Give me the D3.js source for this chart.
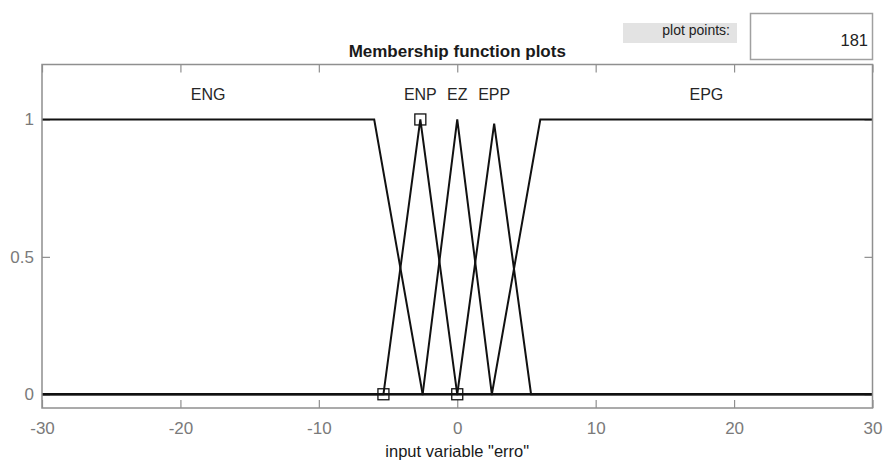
<!DOCTYPE html>
<html>
<head>
<meta charset="utf-8">
<script src="https://cdn.jsdelivr.net/npm/d3@7"></script>
<style>
  html, body { margin: 0; padding: 0; background: #fff; }
  svg { display: block; font-family: "Liberation Sans", Arial, Helvetica, sans-serif; }
</style>
</head>
<body>
<svg id="chart" width="883" height="462"></svg>
<script>
// Membership functions of the input variable "erro"
const mfNames = ["ENG", "ENP", "EZ", "EPP", "EPG"];
// vertices (x, membership) of each function across the universe [-30, 30]
const mfENG = [[-30, 1], [-6, 1], [-2.5, 0], [30, 0]];
const mfENP = [[-30, 0], [-5.333, 0], [-2.667, 1], [0, 0], [30, 0]];
const mfEZ  = [[-30, 0], [-2.5, 0], [0, 1], [2.5, 0], [30, 0]];
const mfEPP = [[-30, 0], [0, 0], [2.667, 0.985], [5.333, 0], [30, 0]];
const mfEPG = [[-30, 0], [2.5, 0], [6, 1], [30, 1]];
const mfCurves = [mfENG, mfENP, mfEZ, mfEPP, mfEPG];
// where each name is written
const labelX = [-18, -2.667, 0, 2.667, 18];
// parameters of the selected function (ENP)
const selectedPoints = [[-5.333, 0], [-2.667, 1], [0, 0]];

const xDomain = [-30, 30];
const yDomain = [-0.05, 1.2];
const xTicks = [-30, -20, -10, 0, 10, 20, 30];
const xTickLabels = ["-30", "-20", "-10", "0", "10", "20", "30"];
const yTicks = [0, 0.5, 1];
const yTickLabels = ["0", "0.5", "1"];
const plotPoints = 181;

const svg = d3.select("#chart");
const m = { left: 42, right: 872.5, top: 64.5, bottom: 408 };

const x = d3.scaleLinear().domain(xDomain).range([m.left, m.right]);
const y = d3.scaleLinear().domain(yDomain).range([m.bottom, m.top]);

const axisColor = "#8f8f8f";
const tickText = "#7a7a7a";

// plot points control
svg.append("rect").attr("x", 623).attr("y", 23).attr("width", 114).attr("height", 20)
  .attr("fill", "#e3e3e3");
svg.append("text").attr("x", 730).attr("y", 35).attr("text-anchor", "end")
  .attr("font-size", 14).attr("fill", "#222").text("plot points:");
svg.append("rect").attr("x", 750.5).attr("y", 13.5).attr("width", 122).attr("height", 46)
  .attr("fill", "#fff").attr("stroke", "#a0a0a0").attr("stroke-width", 1.5);
svg.append("text").attr("x", 868).attr("y", 46).attr("text-anchor", "end")
  .attr("font-size", 16.5).attr("fill", "#222").text(plotPoints);

// title
svg.append("text").attr("x", (m.left + m.right) / 2).attr("y", 57).attr("text-anchor", "middle")
  .attr("font-size", 17).attr("font-weight", "bold").attr("fill", "#1a1a1a")
  .text("Membership function plots");

// axes box with inward ticks on all sides
const tickLen = 8;
const axB = d3.axisBottom(x).tickValues(xTicks).tickSizeInner(-tickLen).tickSizeOuter(0)
  .tickFormat((d, i) => xTickLabels[i]);
const axT = d3.axisTop(x).tickValues(xTicks).tickSizeInner(-tickLen).tickSizeOuter(0).tickFormat("");
const axL = d3.axisLeft(y).tickValues(yTicks).tickSizeInner(-tickLen).tickSizeOuter(0)
  .tickFormat((d, i) => yTickLabels[i]);
const axR = d3.axisRight(y).tickValues(yTicks).tickSizeInner(-tickLen).tickSizeOuter(0).tickFormat("");

function styleAxis(g) {
  g.select(".domain").remove();
  g.selectAll(".tick line").attr("stroke", axisColor).attr("stroke-width", 1.2);
  g.selectAll(".tick text").attr("fill", tickText).attr("font-size", 17)
    .attr("font-family", "Liberation Sans, Arial, sans-serif");
}
svg.append("g").attr("transform", `translate(0,${m.bottom})`).call(axB).call(styleAxis)
  .selectAll(".tick text").attr("dy", null).attr("y", 26);
svg.append("g").attr("transform", `translate(0,${m.top})`).call(axT).call(styleAxis);
svg.append("g").attr("transform", `translate(${m.left},0)`).call(axL).call(styleAxis)
  .selectAll(".tick text").attr("x", -8);
svg.append("g").attr("transform", `translate(${m.right},0)`).call(axR).call(styleAxis);

// membership curves
const line = d3.line().x(d => x(d[0])).y(d => y(d[1]));
svg.append("g").selectAll("path").data(mfCurves).join("path")
  .attr("d", line).attr("fill", "none").attr("stroke", "#111")
  .attr("stroke-width", 2).attr("stroke-linejoin", "miter");

// box outline
svg.append("rect").attr("x", m.left).attr("y", m.top).attr("width", m.right - m.left).attr("height", m.bottom - m.top)
  .attr("fill", "none").attr("stroke", axisColor).attr("stroke-width", 1.5);

// markers on the selected function
const sq = 11;
svg.append("g").selectAll("rect").data(selectedPoints).join("rect")
  .attr("x", d => x(d[0]) - sq / 2).attr("y", d => y(d[1]) - sq / 2)
  .attr("width", sq).attr("height", sq)
  .attr("fill", "none").attr("stroke", "#111").attr("stroke-width", 1.3);

// function names
svg.append("g").selectAll("text").data(mfNames).join("text")
  .attr("x", (d, i) => x(labelX[i])).attr("y", 100).attr("text-anchor", "middle")
  .attr("font-size", 16).attr("fill", "#262626").text(d => d);

// x axis label
svg.append("text").attr("x", (m.left + m.right) / 2).attr("y", 457).attr("text-anchor", "middle")
  .attr("font-size", 16.5).attr("fill", "#1a1a1a").text('input variable "erro"');
</script>
</body>
</html>
